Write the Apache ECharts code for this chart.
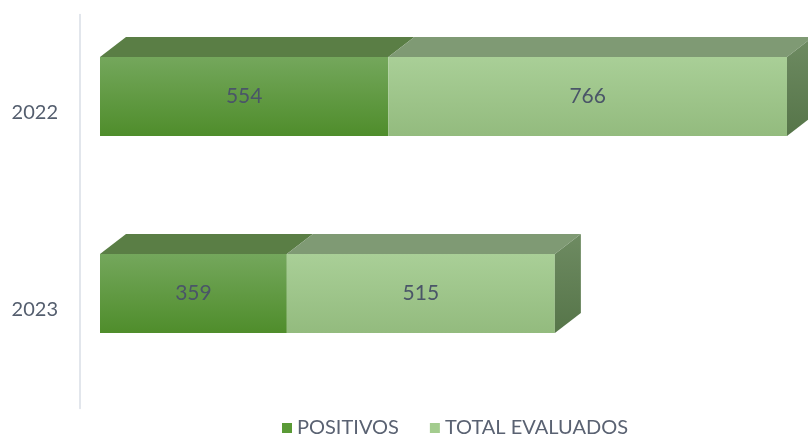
<!DOCTYPE html>
<html>
<head>
<meta charset="utf-8">
<script src="https://cdn.jsdelivr.net/npm/echarts@6/dist/echarts.min.js"></script>
<style>
  html, body { margin: 0; padding: 0; background: #fff; }
  #chart { width: 808px; height: 437px; }
</style>
</head>
<body>
<div id="chart"></div>
<script>
const years = ["2022", "2023"];
const positivos = [554, 359];
const totalEvaluados = [766, 515];

const DX = 26, DY = -20;

// box drawn as front face + top face + (optional) right face
function makeRender(front, top, side, showSide) {
  return function (params, api) {
    const cat = api.value(0);
    const s = api.value(1), e = api.value(2);
    const p0 = api.coord([s, cat]);
    const p1 = api.coord([e, cat]);
    const y0 = p0[1] - 56, y1 = p0[1] + 23;
    const x0 = p0[0], x1 = p1[0];
    const children = [
      {
        type: "polygon",
        shape: { points: [[x0, y0], [x0 + DX, y0 + DY], [x1 + DX, y0 + DY], [x1, y0]] },
        style: { fill: top }
      },
      {
        type: "rect",
        shape: { x: x0, y: y0, width: x1 - x0, height: y1 - y0 },
        style: { fill: front }
      },
      {
        type: "text",
        x: (x0 + x1) / 2,
        y: (y0 + y1) / 2,
        style: {
          text: String(api.value(3)),
          fill: "#4a5568",
          font: "21px Lato",
          align: "center",
          verticalAlign: "middle"
        }
      }
    ];
    if (showSide) {
      children.push({
        type: "polygon",
        shape: { points: [[x1, y0], [x1 + DX, y0 + DY], [x1 + DX, y1 + DY], [x1, y1]] },
        style: { fill: side }
      });
    }
    return { type: "group", children: children };
  };
}

const posData = years.map((y, i) => [i, 0, positivos[i], positivos[i]]);
const totData = years.map((y, i) => [i, positivos[i], positivos[i] + totalEvaluados[i], totalEvaluados[i]]);

const chart = echarts.init(document.getElementById("chart"));
chart.setOption({
  animation: false,
  grid: { left: 100, width: 700, top: 14.5, height: 394 },
  xAxis: { type: "value", min: 0, max: 1345, show: false },
  yAxis: {
    type: "category",
    data: years,
    inverse: true,
    offset: 20,
    axisLine: { show: true, onZero: false, lineStyle: { color: "#d9dee6", width: 1.5 } },
    axisTick: { show: false },
    axisLabel: { color: "#545e6e", fontSize: 20, fontFamily: "Lato", margin: 22 }
  },
  legend: {
    left: 277,
    top: 413,
    itemWidth: 10,
    itemHeight: 10,
    itemGap: 31,
    icon: "rect",
    textStyle: { color: "#5a6272", fontSize: 20, fontFamily: "Lato" },
    data: ["POSITIVOS", "TOTAL EVALUADOS"]
  },
  series: [
    {
      name: "POSITIVOS",
      type: "custom",
      itemStyle: { color: "#5a9a36" },
      encode: { x: [1, 2], y: 0 },
      renderItem: makeRender(
        new echarts.graphic.LinearGradient(0, 0, 0, 1, [
          { offset: 0, color: "#74a75c" },
          { offset: 1, color: "#4f8d2b" }
        ]),
        "#5a7e45", "#4d6b3c", false
      ),
      data: posData
    },
    {
      name: "TOTAL EVALUADOS",
      type: "custom",
      itemStyle: { color: "#a3cc8e" },
      encode: { x: [1, 2], y: 0 },
      renderItem: makeRender(
        new echarts.graphic.LinearGradient(0, 0, 0, 1, [
          { offset: 0, color: "#a9cf97" },
          { offset: 1, color: "#93bb7e" }
        ]),
        "#7f9a74",
        new echarts.graphic.LinearGradient(0, 0, 0, 1, [
          { offset: 0, color: "#6e8b62" },
          { offset: 1, color: "#567549" }
        ]),
        true
      ),
      data: totData
    }
  ]
});
</script>
</body>
</html>
